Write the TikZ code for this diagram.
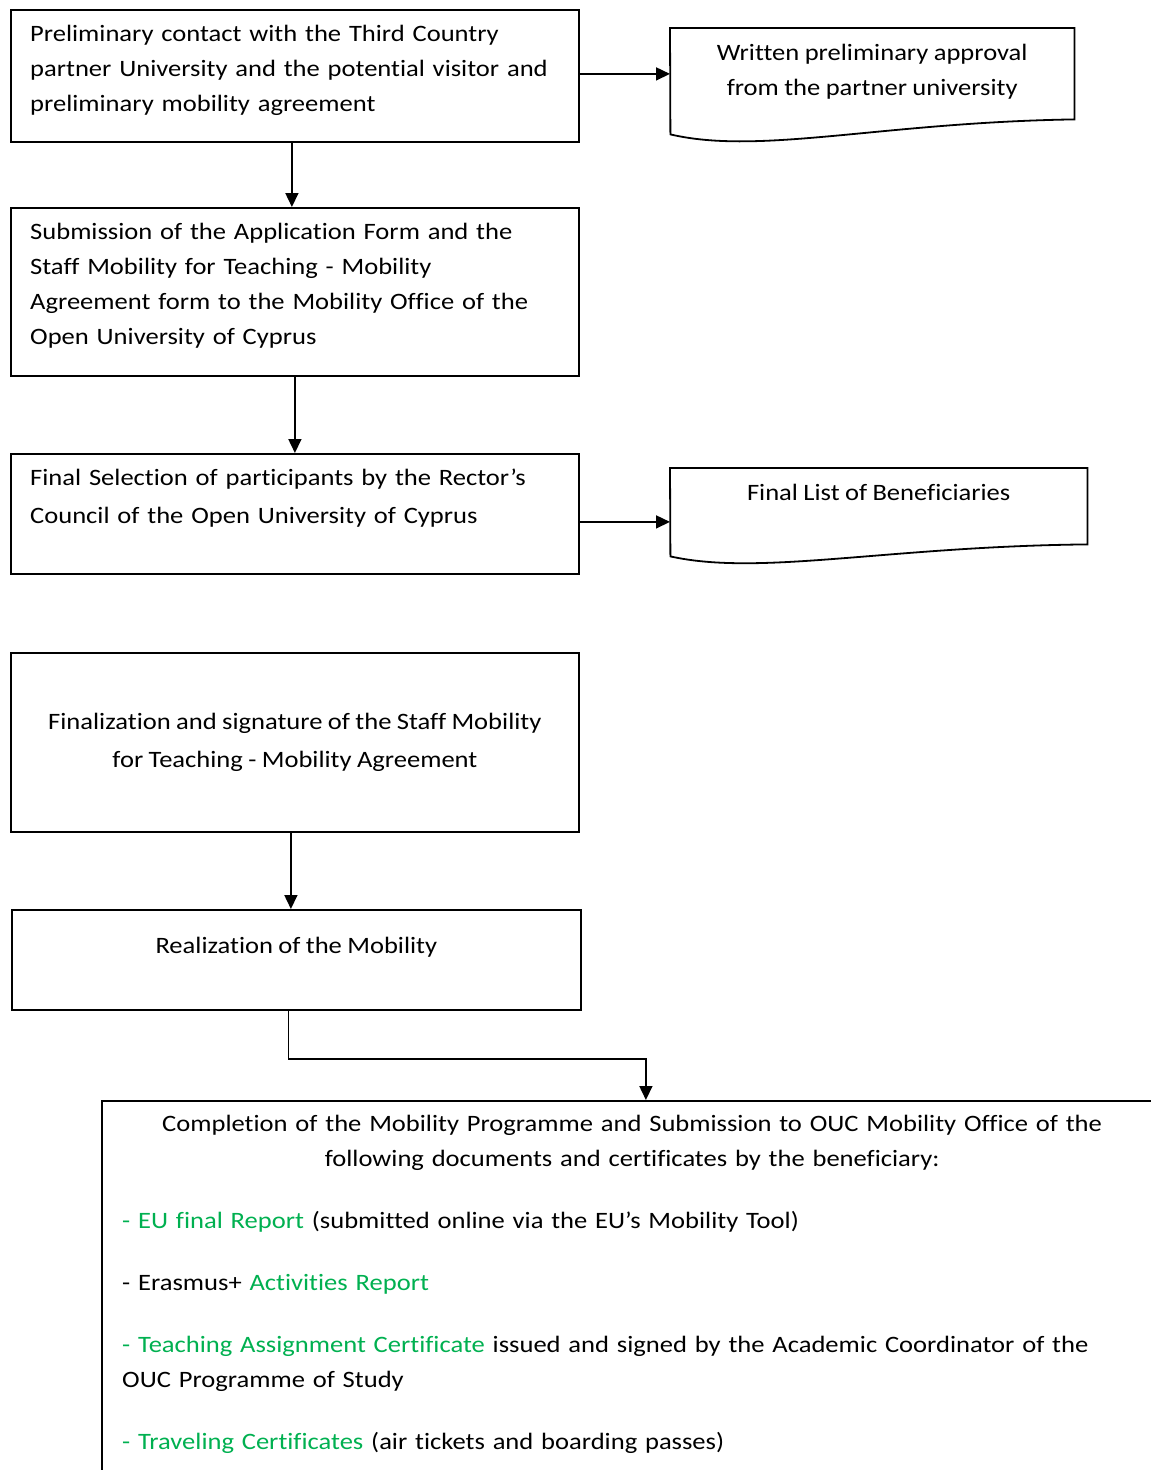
\documentclass[tikz,border=0pt]{standalone}
\usepackage{fontspec}
\setmainfont[FakeStretch=1.13, Ligatures=NoCommon, WordSpace=0.9]{Carlito}
\usetikzlibrary{arrows.meta}
\definecolor{oucgreen}{RGB}{0,176,80}
\tikzstyle{box} = [draw=black, line width=1.8pt, rectangle, anchor=north west, inner sep=0pt]
\tikzstyle{txt} = [font={\fontsize{23.5}{35}\selectfont}, inner xsep=20pt, inner ysep=16pt]
\tikzstyle{flow} = [line width=1.6pt, -{Triangle[length=14pt, width=13pt]}]
\tikzstyle{docline} = [draw=black, line width=1.8pt]
\newcommand{\completiontext}{%
  \parindent=0pt \parskip=27pt
  {\centering Completion of the Mobility Programme and Submission to OUC Mobility Office of the\\ following documents and certificates by the beneficiary:\par}
  {\raggedright
  \textcolor{oucgreen}{- EU final Report} (submitted online via the EU’s Mobility Tool)\par
  - Erasmus+ \textcolor{oucgreen}{Activities Report}\par
  \textcolor{oucgreen}{- Teaching Assignment Certificate} issued and signed by the Academic Coordinator of the\\ OUC Programme of Study\par
  \textcolor{oucgreen}{- Traveling Certificates} (air tickets and boarding passes)\par}}

\begin{document}
\begin{tikzpicture}[x=1pt, y=-1pt]
    \useasboundingbox (0,0) rectangle (1151,1470);
    \node[box, minimum width=568pt, minimum height=132pt,
      label={[txt, text width=528pt, align=left, anchor=north west]north west:
      Preliminary contact with the Third Country\\ partner University and the potential visitor and\\ preliminary mobility agreement}] (contact) at (10,9) {};
    \node[anchor=north west, inner sep=0pt, minimum width=404pt, minimum height=91pt,
      label={[txt, align=center, anchor=north]north:Written preliminary approval\\ from the partner university}] (approval) at (670,28) {};
    \draw[docline] (approval.north west) -- (approval.north east) -- (approval.south east)
      .. controls +(-194,3) and +(90,21) .. ++(-404,15) -- cycle;
    \node[box, minimum width=568pt, minimum height=168pt,
      label={[txt, text width=528pt, align=left, anchor=north west]north west:
      Submission of the Application Form and the\\ Staff Mobility for Teaching - Mobility\\ Agreement form to the Mobility Office of the\\ Open University of Cyprus}] (submission) at (10,207) {};
    \node[box, minimum width=568pt, minimum height=120pt,
      label={[txt, font={\fontsize{23.5}{38}\selectfont}, text width=528pt, align=left, anchor=north west]north west:
      Final Selection of participants by the Rector’s\\ Council of the Open University of Cyprus}] (selection) at (10,453) {};
    \node[anchor=north west, inner sep=0pt, minimum width=417pt, minimum height=76pt,
      label={[txt, anchor=north]north:Final List of Beneficiaries}] (beneficiaries) at (670,468) {};
    \draw[docline] (beneficiaries.north west) -- (beneficiaries.north east) -- (beneficiaries.south east)
      .. controls +(-200,2) and +(90,20) .. ++(-417,12) -- cycle;
    \node[box, txt, font={\fontsize{23.5}{38}\selectfont}, align=center, minimum width=568pt, minimum height=179pt]
      (signature) at (10,652) {Finalization and signature of the Staff Mobility\\ for Teaching - Mobility Agreement};
    \node[box, minimum width=569pt, minimum height=100pt,
      label={[txt, inner ysep=28pt, anchor=north]north:Realization of the Mobility}] (realization) at (11,909) {};
    \node[box, minimum width=1062pt, minimum height=400pt,
      label={[txt, inner xsep=21pt, inner ysep=15pt, text width=1020pt, anchor=north west]north west:\completiontext}] (completion) at (101,1100) {};
    \draw[flow] ([yshift=2pt]contact.east) -- ([yshift=2pt]contact.east -| approval.west);
    \draw[flow] ([xshift=-3pt]contact.south) -- ([xshift=-3pt]contact.south |- submission.north);
    \draw[flow] (submission.south) -- (selection.north);
    \draw[flow] ([yshift=-8pt]selection.east) -- ([yshift=-8pt]selection.east -| beneficiaries.west);
    \draw[flow] ([xshift=-4pt]signature.south) -- ([xshift=-4pt]signature.south |- realization.north);
    \draw[flow] ([xshift=-8pt]realization.south) -- ++(0,48) -| ([xshift=13pt]completion.north);
  \end{tikzpicture}
\end{document}
